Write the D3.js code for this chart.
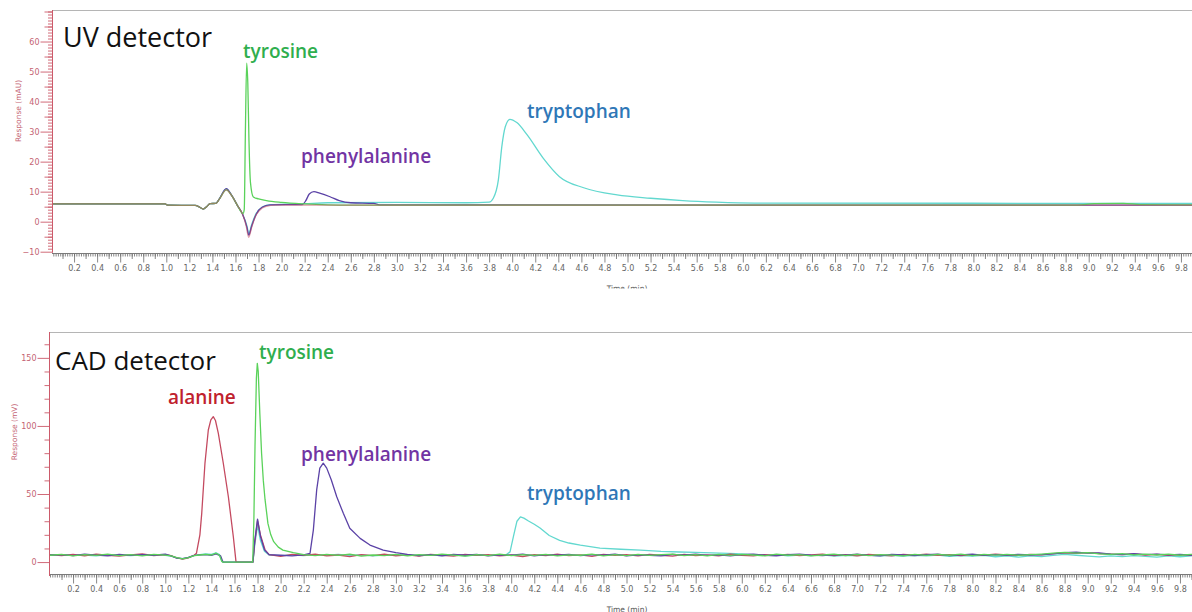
<!DOCTYPE html>
<html>
<head>
<meta charset="utf-8">
<script src="https://cdn.jsdelivr.net/npm/d3@7"></script>
<style>
  html, body { margin: 0; padding: 0; background: #fff; }
  svg { display: block; }
</style>
</head>
<body>
<svg id="chart" width="1192" height="612"></svg>
<script>
// ---- Tick labels -------------------------------------------------------
const timeTicks = [0.2,0.4,0.6,0.8,1.0,1.2,1.4,1.6,1.8,2.0,2.2,2.4,2.6,2.8,3.0,3.2,3.4,3.6,3.8,4.0,
  4.2,4.4,4.6,4.8,5.0,5.2,5.4,5.6,5.8,6.0,6.2,6.4,6.6,6.8,7.0,7.2,7.4,7.6,7.8,8.0,
  8.2,8.4,8.6,8.8,9.0,9.2,9.4,9.6,9.8];
const uvTicks = [-10,0,10,20,30,40,50,60];
const cadTicks = [0,50,100,150];

// ---- UV detector traces: [time (min), response (mAU)] ------------------
const uvAlanine = [[0,5.9],[0.99,5.9],[1.01,5.5],[1.25,5.4],[1.29,4.8],[1.32,4.2],[1.35,5.0],[1.38,6.0],
  [1.43,6.1],[1.46,7.5],[1.52,10.6],[1.57,8.5],[1.62,5.2],[1.66,2.6],[1.69,-1.0],[1.715,-5.2],[1.74,-2.0],
  [1.77,1.5],[1.81,3.8],[1.86,5.0],[1.95,5.5],[9.95,5.5]];
const uvTyrosine = [[0,5.9],[0.99,5.9],[1.01,5.5],[1.25,5.4],[1.29,4.8],[1.32,4.2],[1.35,5.0],[1.38,6.0],
  [1.43,6.1],[1.46,7.5],[1.52,10.6],[1.57,8.5],[1.62,5.2],[1.665,2.7],[1.676,4.0],[1.686,30],[1.697,52.8],
  [1.707,46],[1.717,27],[1.73,13],[1.755,8.2],[1.8,7.6],[1.87,7.0],[2.0,6.4],[2.2,5.9],[2.4,5.6],[2.6,5.5],
  [8.9,5.5],[9.05,6.0],[9.3,6.1],[9.45,5.7],[9.95,5.6]];
const uvPhenylalanine = [[0,5.9],[0.99,5.9],[1.01,5.5],[1.25,5.4],[1.29,4.8],[1.32,4.2],[1.35,5.0],[1.38,6.0],
  [1.43,6.1],[1.46,7.6],[1.52,11.0],[1.57,8.6],[1.62,5.2],[1.66,2.6],[1.7,-2.0],[1.715,-4.5],[1.74,-1.5],
  [1.78,2.5],[1.83,4.8],[1.9,5.6],[2.18,5.7],[2.21,7.0],[2.24,9.2],[2.28,10.0],[2.33,9.5],[2.42,8.3],
  [2.5,7.0],[2.6,6.3],[2.8,6.1],[2.85,5.6],[9.95,5.5]];
const uvTryptophan = [[0,5.9],[0.99,5.9],[1.01,5.5],[1.25,5.4],[1.29,4.8],[1.32,4.2],[1.35,5.0],[1.38,6.0],
  [1.43,6.1],[1.46,7.6],[1.52,10.9],[1.57,8.6],[1.62,5.2],[1.66,2.6],[1.7,-1.5],[1.715,-4.0],[1.74,-1.0],
  [1.78,2.8],[1.84,5.0],[1.9,5.6],[2.2,6.0],[2.4,6.3],[3.0,6.4],[3.6,6.3],[3.8,6.5],[3.836,7.8],[3.88,13.9],
  [3.91,25],[3.94,31.6],[3.98,34.1],[4.04,33.0],[4.13,28.9],[4.27,21.1],[4.41,15.0],[4.62,11.3],[4.91,8.9],
  [5.2,7.8],[5.48,7.0],[5.77,6.5],[6.1,6.2],[9.95,6.1]];

// ---- CAD detector traces: [time (min), response (mV)] ------------------
const cadAlanine = [[0,5.5],[0.1,4.8],[0.2,5.6],[0.3,4.6],[0.4,5.8],[0.5,5.0],[0.6,4.4],[0.7,5.3],[0.8,6.0],
  [0.9,4.7],[1.0,5.5],[1.05,4.8],[1.1,3.0],[1.15,2.2],[1.2,3.1],[1.25,5.0],[1.27,6.4],[1.3,20],[1.316,35.8],
  [1.344,72.6],[1.373,97],[1.395,104.5],[1.416,106.8],[1.435,104],[1.46,94.6],[1.503,72.6],[1.547,48],[1.59,18.6],[1.613,0.3],
  [1.62,0],[1.76,0],[1.775,14],[1.8,30.5],[1.825,20],[1.865,9],[1.9,5.5],[2.0,4.2],[2.1,5.6],[2.2,4.9],
  [2.3,5.8],[2.4,4.5],[2.5,5.2],[2.6,4.0],[2.7,5.5],[2.8,4.8],[2.9,5.9],[3.0,4.6],[3.1,5.3],[3.2,4.4],
  [3.3,5.7],[3.4,5.0],[3.5,4.3],[3.6,5.6],[3.7,4.9],[3.8,5.4],[3.9,4.6],[4.0,5.2],[4.1,4.1],[4.2,5.5],
  [4.3,4.7],[4.4,5.9],[4.5,4.8],[4.6,5.3],[4.7,4.2],[4.8,5.6],[4.9,4.9],[5.0,5.4],[5.1,4.5],[5.2,5.7],
  [5.3,5.0],[5.4,4.4],[5.5,5.6],[5.6,4.8],[5.7,5.3],[5.8,4.6],[5.9,5.8],[6.0,5.0],[6.1,4.5],[6.2,5.5],
  [6.3,4.9],[6.4,5.6],[6.5,4.7],[6.6,5.3],[6.7,5.9],[6.8,4.8],[6.9,5.4],[7.0,4.6],[7.1,5.7],[7.2,5.1],
  [7.3,4.5],[7.4,5.6],[7.5,5.0],[7.6,5.8],[7.7,4.9],[7.8,5.4],[7.9,4.7],[8.0,5.5],[8.1,5.0],[8.2,5.8],
  [8.3,5.2],[8.4,4.9],[8.5,5.6],[8.6,5.3],[8.7,6.2],[8.8,6.8],[8.9,6.4],[9.0,7.0],[9.1,6.3],[9.2,5.9],
  [9.3,5.4],[9.4,6.0],[9.5,5.2],[9.6,5.7],[9.7,5.0],[9.8,5.5],[9.9,5.1],[9.95,5.3]];
const cadTyrosine = [[0,5.0],[0.1,5.7],[0.2,4.5],[0.3,5.4],[0.4,4.9],[0.5,5.9],[0.6,4.8],[0.7,5.5],[0.8,4.6],
  [0.9,5.6],[1.0,5.1],[1.05,4.5],[1.1,3.2],[1.15,2.4],[1.2,3.3],[1.25,4.8],[1.3,5.2],[1.35,5.6],[1.4,5.2],
  [1.44,6.5],[1.47,5.0],[1.49,0.5],[1.5,0],[1.758,0],[1.768,30],[1.778,85],[1.79,135],[1.798,146],
  [1.806,140],[1.82,109],[1.835,80],[1.85,60],[1.865,46],[1.89,28.4],[1.915,20],[1.94,15],[1.98,11],[2.02,8.8],[2.11,6.9],[2.2,5.4],
  [2.3,4.7],[2.4,5.6],[2.5,4.9],[2.6,5.8],[2.7,4.4],[2.8,5.2],[2.9,4.8],[3.0,5.7],[3.1,4.5],[3.2,5.5],
  [3.3,4.9],[3.4,5.8],[3.5,5.1],[3.6,4.4],[3.7,5.4],[3.8,4.8],[3.9,5.9],[4.0,4.7],[4.1,5.4],[4.2,4.9],
  [4.3,5.6],[4.4,4.5],[4.5,5.3],[4.6,5.0],[4.7,5.8],[4.8,4.6],[4.9,5.5],[5.0,4.8],[5.1,5.7],[5.2,4.9],
  [5.3,5.4],[5.4,5.9],[5.5,4.7],[5.6,5.4],[5.7,4.6],[5.8,5.6],[5.9,4.9],[6.0,5.7],[6.1,5.2],[6.2,4.6],
  [6.3,5.8],[6.4,5.0],[6.5,5.5],[6.6,4.6],[6.7,5.2],[6.8,5.9],[6.9,4.8],[7.0,5.6],[7.1,4.7],[7.2,5.5],
  [7.3,5.1],[7.4,4.6],[7.5,5.7],[7.6,4.9],[7.7,5.6],[7.8,5.0],[7.9,5.8],[8.0,4.8],[8.1,5.6],[8.2,5.1],
  [8.3,5.7],[8.4,5.0],[8.5,5.4],[8.6,5.9],[8.7,6.5],[8.8,7.1],[8.9,6.6],[9.0,6.9],[9.1,6.0],[9.2,5.6],
  [9.3,6.2],[9.4,5.3],[9.5,5.9],[9.6,5.2],[9.7,5.8],[9.8,5.0],[9.9,5.6],[9.95,5.4]];
const cadPhenylalanine = [[0,5.2],[0.1,5.4],[0.2,4.7],[0.3,5.9],[0.4,5.1],[0.5,4.6],[0.6,5.6],[0.7,4.9],
  [0.8,5.4],[0.9,5.0],[1.0,5.8],[1.05,4.6],[1.1,2.9],[1.15,2.5],[1.2,3.4],[1.25,4.9],[1.3,5.3],[1.35,5.4],
  [1.4,5.0],[1.44,6.0],[1.48,4.5],[1.5,0],[1.76,0],[1.775,15],[1.8,31.5],[1.825,19],[1.86,9],[1.9,5.5],
  [2.0,5.0],[2.1,4.6],[2.2,5.3],[2.255,6.4],[2.284,23.5],[2.313,53],[2.34,69],[2.37,72.6],[2.4,69],[2.44,60.3],
  [2.487,48],[2.544,35.8],[2.6,24.8],[2.69,17.4],[2.775,12.5],[2.89,8.8],[3.0,6.9],[3.1,5.6],[3.2,4.8],
  [3.3,5.5],[3.4,4.6],[3.5,5.7],[3.6,5.0],[3.7,5.6],[3.8,4.5],[3.9,5.3],[4.0,5.0],[4.1,5.8],[4.2,4.6],
  [4.3,5.4],[4.4,5.0],[4.5,5.7],[4.6,4.7],[4.7,5.5],[4.8,5.0],[4.9,5.9],[5.0,4.6],[5.1,5.3],[5.2,5.0],
  [5.3,4.5],[5.4,5.6],[5.5,5.1],[5.6,5.8],[5.7,4.9],[5.8,5.3],[5.9,4.6],[6.0,5.4],[6.1,5.9],[6.2,5.0],
  [6.3,4.6],[6.4,5.4],[6.5,5.9],[6.6,5.1],[6.7,4.7],[6.8,5.5],[6.9,5.0],[7.0,5.8],[7.1,4.9],[7.2,4.6],
  [7.3,5.6],[7.4,5.2],[7.5,4.7],[7.6,5.4],[7.7,5.9],[7.8,4.8],[7.9,5.3],[8.0,5.9],[8.1,4.9],[8.2,5.4],
  [8.3,5.0],[8.4,5.7],[8.5,5.2],[8.6,5.5],[8.7,6.0],[8.8,6.9],[8.9,7.2],[9.0,6.5],[9.1,6.7],[9.2,5.8],
  [9.3,5.5],[9.4,6.1],[9.5,5.4],[9.6,5.9],[9.7,5.3],[9.8,5.7],[9.9,5.0],[9.95,5.5]];
const cadTryptophan = [[0,4.9],[0.1,5.3],[0.2,5.0],[0.3,5.2],[0.4,4.6],[0.5,5.4],[0.6,5.1],[0.7,4.8],
  [0.8,5.3],[0.9,5.2],[1.0,5.0],[1.05,4.4],[1.1,3.1],[1.15,2.6],[1.2,3.2],[1.25,4.7],[1.3,5.5],[1.35,6.0],
  [1.4,5.6],[1.44,6.8],[1.47,5.5],[1.49,0.6],[1.5,0],[1.76,0],[1.775,12],[1.8,27],[1.825,16],[1.86,8],
  [1.9,5.2],[2.0,4.8],[2.1,5.3],[2.2,4.7],[2.3,5.4],[2.4,5.0],[2.5,5.6],[2.6,4.9],[2.7,5.3],[2.8,4.6],
  [2.9,5.2],[3.0,5.0],[3.1,5.5],[3.2,4.7],[3.3,5.2],[3.4,4.8],[3.5,5.4],[3.6,4.6],[3.7,5.1],[3.8,4.9],
  [3.9,5.3],[3.95,5.0],[3.99,7.5],[4.02,19],[4.05,30],[4.08,33.2],[4.11,32.3],[4.15,30.2],[4.2,27.8],[4.25,25],
  [4.33,19.5],[4.42,16],[4.5,14],[4.6,12.5],[4.77,10.3],[4.95,9.4],[5.12,8.8],[5.3,7.9],[5.46,7.4],[5.6,7.1],
  [5.81,6.6],[5.95,6.2],[6.1,5.5],[6.2,4.9],[6.3,5.4],[6.4,4.6],[6.5,5.2],[6.6,4.7],[6.7,5.3],[6.8,4.4],
  [6.9,5.0],[7.0,4.7],[7.1,5.2],[7.2,4.5],[7.3,5.0],[7.4,4.3],[7.5,4.9],[7.6,4.5],[7.7,5.1],[7.8,4.2],
  [7.9,4.8],[8.0,4.4],[8.1,4.9],[8.2,3.9],[8.3,4.6],[8.4,3.7],[8.5,4.5],[8.6,4.1],[8.7,4.9],[8.8,5.6],
  [8.9,5.0],[9.0,4.4],[9.1,3.8],[9.2,4.6],[9.3,4.0],[9.4,4.8],[9.5,4.2],[9.6,3.6],[9.7,4.5],[9.8,3.9],
  [9.9,4.6],[9.95,4.3]];

// ---- Styling -----------------------------------------------------------
const colors = {
  alanine: "#c44a60", tyrosine: "#5ad25a", phenylalanine: "#5b42a6", tryptophan: "#62d8cf"
};
const labelColors = {
  alanine: "#c0212d", tyrosine: "#2fae4e", phenylalanine: "#7234a3", tryptophan: "#2f77b7"
};
const axisRed = "#cc5a6a";
const tickGray = "#6a6a6a";

const svg = d3.select("#chart");
svg.append("rect").attr("width", 1192).attr("height", 612).attr("fill", "#fff");

// Panel layout
const panels = [
  {
    id: "uv", left: 52, top: 10, bottom: 251.7, axisY: 253.5, xRange: [51, 1204],
    yDomain: [-10, 70.5], yTicks: uvTicks, minorStep: 1, midStep: 5, clipBottom: 288.5,
    yTitle: "Response (mAU)", yTitleX: 21, yTitleY: 111,
    title: "UV detector", titleX: 63, titleY: 47, titleSize: 27,
    curve: d3.curveMonotoneX,
    traces: [
      { data: uvTryptophan, color: colors.tryptophan, opacity: 1 },
      { data: uvPhenylalanine, color: colors.phenylalanine, opacity: 1 },
      { data: uvTyrosine, color: colors.tyrosine, opacity: 1 },
      { data: uvAlanine, color: colors.alanine, opacity: 0.55 }
    ],
    labels: [
      { text: "tyrosine", x: 243, y: 58, c: labelColors.tyrosine },
      { text: "phenylalanine", x: 301, y: 163, c: labelColors.phenylalanine },
      { text: "tryptophan", x: 527, y: 118, c: labelColors.tryptophan }
    ]
  },
  {
    id: "cad", left: 49, top: 332, bottom: 575, axisY: 574.5, xRange: [50, 1203],
    yDomain: [-9.5, 169], yTicks: cadTicks, minorStep: 10, midStep: null, clipBottom: 612,
    yTitle: "Response (mV)", yTitleX: 17, yTitleY: 432,
    title: "CAD detector", titleX: 55, titleY: 370, titleSize: 26,
    curve: d3.curveLinear,
    traces: [
      { data: cadTryptophan, color: colors.tryptophan, opacity: 1 },
      { data: cadAlanine, color: colors.alanine, opacity: 1 },
      { data: cadPhenylalanine, color: colors.phenylalanine, opacity: 1 },
      { data: cadTyrosine, color: colors.tyrosine, opacity: 1 }
    ],
    labels: [
      { text: "tyrosine", x: 259, y: 359, c: labelColors.tyrosine },
      { text: "alanine", x: 168, y: 404, c: labelColors.alanine },
      { text: "phenylalanine", x: 301, y: 461, c: labelColors.phenylalanine },
      { text: "tryptophan", x: 527, y: 500, c: labelColors.tryptophan }
    ]
  }
];

panels.forEach(p => {
  const clipId = "clip-" + p.id;
  const areaId = "area-" + p.id;
  const defs = svg.append("defs");
  defs.append("clipPath").attr("id", clipId)
    .append("rect").attr("x", 0).attr("y", p.top - 30).attr("width", 1192).attr("height", p.clipBottom - p.top + 30);
  defs.append("clipPath").attr("id", areaId)
    .append("rect").attr("x", p.left + 0.5).attr("y", p.top).attr("width", 1192 - p.left).attr("height", p.bottom - p.top);

  const g = svg.append("g").attr("clip-path", `url(#${clipId})`);

  const x = d3.scaleLinear().domain([0, 10]).range(p.xRange);
  const y = d3.scaleLinear().domain(p.yDomain).range([p.bottom, p.top]);

  // top frame line
  g.append("line").attr("x1", p.left).attr("x2", 1192).attr("y1", p.top + 0.5).attr("y2", p.top + 0.5)
    .attr("stroke", "#b5b5b5").attr("stroke-width", 1);

  // traces
  const line = d3.line().x(d => x(d[0])).y(d => y(d[1])).curve(p.curve);
  const tg = g.append("g").attr("clip-path", `url(#${areaId})`);
  p.traces.forEach(t => {
    tg.append("path").datum(t.data).attr("d", line)
      .attr("fill", "none").attr("stroke", t.color).attr("stroke-width", 1.3)
      .attr("stroke-opacity", t.opacity).attr("stroke-linejoin", "round");
  });

  // x axis: minor (0.02), mid (0.1), major labelled (0.2)
  const xAxisG = g.append("g").attr("transform", `translate(0,${p.axisY})`);
  const minorX = d3.range(0, 1000, 2).map(v => v / 100).filter(v => x(v) > p.left && x(v) < 1192);
  const midX = d3.range(1, 100, 2).map(v => v / 10).filter(v => x(v) > p.left && x(v) < 1192);
  xAxisG.append("g").call(d3.axisBottom(x).tickValues(minorX).tickSize(3).tickFormat(""))
    .call(s => s.select(".domain").remove());
  xAxisG.append("g").call(d3.axisBottom(x).tickValues(midX).tickSize(5.5).tickFormat(""))
    .call(s => s.select(".domain").remove());
  xAxisG.append("g").call(d3.axisBottom(x).tickValues(timeTicks).tickSize(9).tickPadding(3)
      .tickFormat(d3.format(".1f")))
    .call(s => s.select(".domain").remove())
    .call(s => s.selectAll("text").attr("font-family", "DejaVu Sans, Verdana, sans-serif")
      .attr("font-size", 8).attr("fill", "#666"));
  xAxisG.selectAll(".tick line").attr("stroke", tickGray).attr("stroke-width", 0.8);
  xAxisG.append("line").attr("x1", p.left).attr("x2", 1192).attr("y1", 0).attr("y2", 0)
    .attr("stroke", "#7a7a7a").attr("stroke-width", 1);

  g.append("text").attr("x", 627).attr("y", p.axisY + 37).attr("text-anchor", "middle")
    .attr("font-family", "DejaVu Sans, Verdana, sans-serif").attr("font-size", 7.5).attr("fill", "#555")
    .text("Time (min)");

  // y axis
  const yAxisG = g.append("g").attr("transform", `translate(${p.left + 0.5},0)`);
  const yMin = p.yDomain[0], yMax = p.yDomain[1];
  const minorY = d3.range(Math.ceil(yMin / p.minorStep) * p.minorStep, yMax, p.minorStep)
    .filter(v => !p.yTicks.includes(v));
  yAxisG.append("g").call(d3.axisLeft(y).tickValues(minorY).tickSize(p.id === "uv" ? 4.5 : 5).tickFormat(""))
    .call(s => s.select(".domain").remove());
  if (p.midStep) {
    const midY = d3.range(Math.ceil(yMin / p.midStep) * p.midStep, yMax, p.midStep)
      .filter(v => !p.yTicks.includes(v));
    yAxisG.append("g").call(d3.axisLeft(y).tickValues(midY).tickSize(8).tickFormat(""))
      .call(s => s.select(".domain").remove());
  }
  yAxisG.append("g").call(d3.axisLeft(y).tickValues(p.yTicks).tickSize(12).tickPadding(1))
    .call(s => s.select(".domain").remove())
    .call(s => s.selectAll("text").attr("font-family", "DejaVu Sans, Verdana, sans-serif")
      .attr("font-size", 8).attr("fill", "#c46272"));
  yAxisG.selectAll(".tick line").attr("stroke", axisRed).attr("stroke-width", 0.9);
  yAxisG.append("line").attr("x1", 0).attr("x2", 0).attr("y1", p.top).attr("y2", p.bottom + 1)
    .attr("stroke", axisRed).attr("stroke-width", 1);

  g.append("text")
    .attr("transform", `translate(${p.yTitleX},${p.yTitleY}) rotate(-90)`)
    .attr("text-anchor", "middle")
    .attr("font-family", "DejaVu Sans, Verdana, sans-serif").attr("font-size", 7.5).attr("fill", "#c46272")
    .text(p.yTitle);

  // panel title
  g.append("text").attr("x", p.titleX).attr("y", p.titleY)
    .attr("font-family", "Open Sans, sans-serif").attr("font-size", p.titleSize).attr("fill", "#111")
    .text(p.title);

  // compound labels
  p.labels.forEach(l => {
    g.append("text").attr("x", l.x).attr("y", l.y)
      .attr("font-family", "Open Sans, sans-serif").attr("font-size", 19).attr("font-weight", 600)
      .attr("fill", l.c).text(l.text);
  });
});
</script>
</body>
</html>
